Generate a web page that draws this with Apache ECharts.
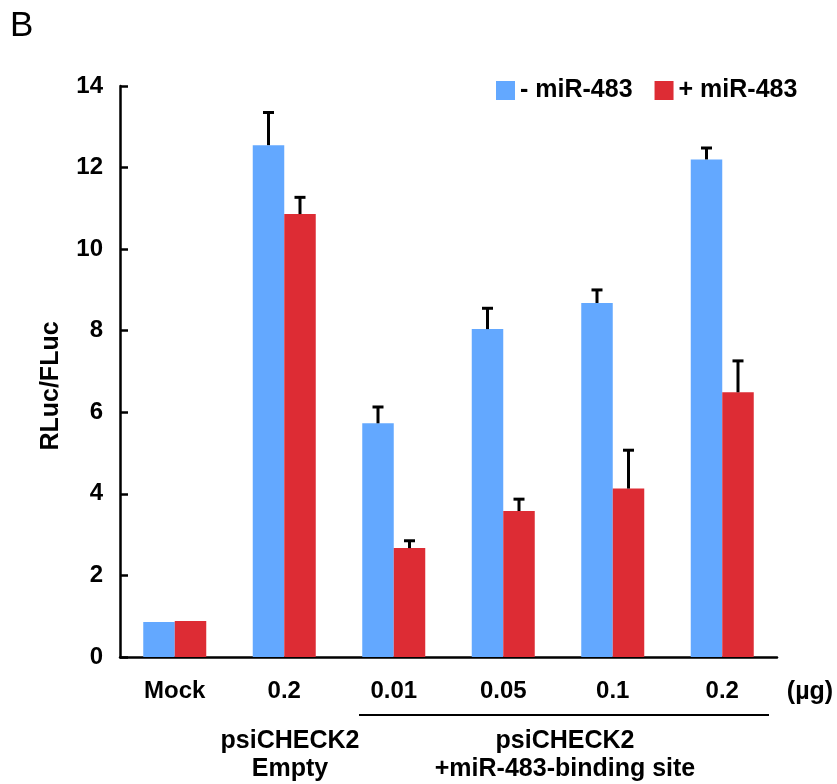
<!DOCTYPE html>
<html>
<head>
<meta charset="utf-8">
<script src="https://cdn.jsdelivr.net/npm/echarts@6/dist/echarts.min.js"></script>
<style>
html, body { margin: 0; padding: 0; background: #fff; }
#chart { width: 837px; height: 784px; }
</style>
</head>
<body>
<div id="chart"></div>
<script>
// data
var categories = ['Mock', '0.2', '0.01', '0.05', '0.1', '0.2'];
var seriesNames = ['- miR-483', '+ miR-483'];
var minusMiR = [0.86, 12.55, 5.73, 8.04, 8.68, 12.2];
var minusErr = [0, 0.80, 0.40, 0.51, 0.32, 0.28];
var plusMiR = [0.88, 10.86, 2.67, 3.58, 4.13, 6.49];
var plusErr = [0, 0.41, 0.18, 0.29, 0.94, 0.77];
var yTicks = [0, 2, 4, 6, 8, 10, 12, 14];

var FONT = '"Liberation Sans", Arial, sans-serif';
var BAR_W = 31.5;

function errData(vals, errs){
    var out = [];
    for (var i = 0; i < vals.length; i++) {
        if (errs[i] > 0) out.push([i, vals[i], vals[i] + errs[i]]);
    }
    return out;
}

function errRender(side){
    return function(params, api){
        var base = api.coord([api.value(0), api.value(1)]);
        var top = api.coord([api.value(0), api.value(2)]);
        var x = base[0] + side * BAR_W / 2;
        return {
            type: 'group',
            children: [
                {type: 'line', shape: {x1: x, y1: base[1], x2: x, y2: top[1]}, style: {stroke: '#000', lineWidth: 3}},
                {type: 'line', shape: {x1: x - 5.5, y1: top[1], x2: x + 5.5, y2: top[1]}, style: {stroke: '#000', lineWidth: 3}}
            ]
        };
    };
}

var chart = echarts.init(document.getElementById('chart'));
var axisStyle = {color: '#000', fontFamily: FONT, fontWeight: 'bold', fontSize: 24};

chart.setOption({
    animation: false,
    backgroundColor: '#fff',
    grid: {left: 120, right: 60, top: 86, bottom: 127, containLabel: false},
    legend: {
        data: seriesNames,
        left: 491, top: 73,
        itemWidth: 19, itemHeight: 19, itemGap: 22,
        icon: 'rect',
        textStyle: {color: '#000', fontFamily: FONT, fontWeight: 'bold', fontSize: 25, padding: [0, 0, 0, 0]}
    },
    xAxis: {
        type: 'category',
        data: categories,
        axisLine: {lineStyle: {color: '#000', width: 2.5}},
        axisTick: {inside: true, length: 8, lineStyle: {color: '#000', width: 2.5}},
        axisLabel: Object.assign({margin: 22, interval: 0}, axisStyle)
    },
    yAxis: {
        type: 'value',
        min: yTicks[0], max: yTicks[yTicks.length - 1], interval: 2,
        splitLine: {show: false},
        axisLine: {show: true, lineStyle: {color: '#000', width: 2.5}},
        axisTick: {show: true, inside: true, length: 8, lineStyle: {color: '#000', width: 2.5}},
        axisLabel: Object.assign({margin: 17}, axisStyle)
    },
    graphic: [
        {type: 'text', left: 10, top: 9, style: {text: 'B', fill: '#000', font: '35px ' + FONT}},
        {type: 'text', x: 51, y: 386, rotation: Math.PI / 2, style: {text: 'RLuc/FLuc', fill: '#000', font: 'bold 25px ' + FONT, textAlign: 'center', textVerticalAlign: 'middle'}},
        {type: 'text', x: 810, y: 692, style: {text: '(µg)', fill: '#000', font: 'bold 25px ' + FONT, textAlign: 'center', textVerticalAlign: 'middle'}},
        {type: 'line', shape: {x1: 359, y1: 715, x2: 769, y2: 715}, style: {stroke: '#000', lineWidth: 2}},
        {type: 'text', x: 290, y: 755, style: {text: 'psiCHECK2\nEmpty', fill: '#000', font: 'bold 25px ' + FONT, lineHeight: 28, textAlign: 'center', textVerticalAlign: 'middle'}},
        {type: 'text', x: 565, y: 755, style: {text: 'psiCHECK2\n+miR-483-binding site', fill: '#000', font: 'bold 25px ' + FONT, lineHeight: 28, textAlign: 'center', textVerticalAlign: 'middle'}}
    ],
    series: [
        {name: seriesNames[0], type: 'bar', data: minusMiR, barWidth: BAR_W, barGap: '0%', itemStyle: {color: '#63a8ff'}},
        {name: seriesNames[1], type: 'bar', data: plusMiR, barWidth: BAR_W, barGap: '0%', itemStyle: {color: '#dd2c34'}},
        {type: 'custom', data: errData(minusMiR, minusErr), renderItem: errRender(-1), z: 5},
        {type: 'custom', data: errData(plusMiR, plusErr), renderItem: errRender(1), z: 5}
    ]
});
</script>
</body>
</html>
